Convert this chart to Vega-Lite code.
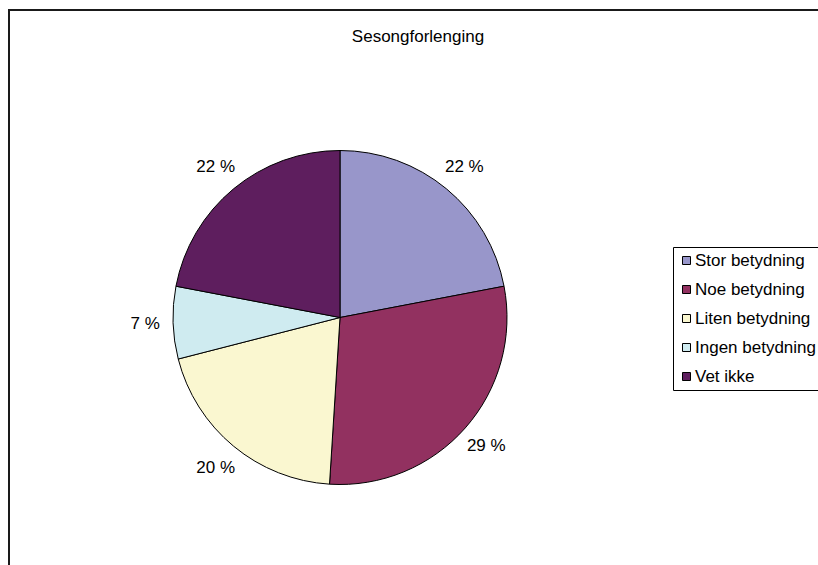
{
  "$schema": "https://vega.github.io/schema/vega-lite/v6.json",
  "width": 662,
  "height": 495,
  "autosize": {"type": "none"},
  "padding": {"left": 9, "top": 70, "right": 147, "bottom": 0},
  "background": "white",
  "config": {"view": {"stroke": null}, "font": "Liberation Sans"},
  "title": {
    "text": "Sesongforlenging",
    "font": "Liberation Sans",
    "fontSize": 17,
    "fontWeight": "normal",
    "color": "black",
    "anchor": "middle",
    "baseline": "alphabetic",
    "offset": -50,
    "dx": 78
  },
  "data": {
    "values": [
      {"idx": 1, "kategori": "Stor betydning", "andel": 22, "label": "22 %"},
      {"idx": 2, "kategori": "Noe betydning", "andel": 29, "label": "29 %"},
      {"idx": 3, "kategori": "Liten betydning", "andel": 20, "label": "20 %"},
      {"idx": 4, "kategori": "Ingen betydning", "andel": 7, "label": "7 %"},
      {"idx": 5, "kategori": "Vet ikke", "andel": 22, "label": "22 %"}
    ]
  },
  "layer": [
    {
      "data": {"values": [{"frame": "ramme"}]},
      "mark": {"type": "rect", "x": 0, "y": -60, "x2": 900, "y2": 700, "fillOpacity": 0, "stroke": "#1a1a1a", "strokeWidth": 2},
      "encoding": {}
    },
    {
      "mark": {"type": "arc", "radius": 167, "stroke": "black", "strokeWidth": 1},
      "encoding": {
        "theta": {"field": "andel", "type": "quantitative", "stack": true},
        "order": {"field": "idx", "type": "quantitative"},
        "color": {
          "field": "kategori",
          "type": "nominal",
          "sort": null,
          "scale": {
            "domain": ["Stor betydning", "Noe betydning", "Liten betydning", "Ingen betydning", "Vet ikke"],
            "range": ["#9896CA", "#923160", "#FAF7D0", "#CFEBF0", "#5E1E5E"]
          },
          "legend": {
            "title": null,
            "orient": "none",
            "legendX": 664,
            "legendY": 177,
            "strokeColor": "black",
            "fillColor": "white",
            "padding": 5,
            "symbolType": "square",
            "symbolSize": 64,
            "symbolStrokeColor": "black",
            "symbolStrokeWidth": 1,
            "symbolOpacity": 1,
            "labelFont": "Liberation Sans",
            "labelFontSize": 17,
            "labelColor": "black",
            "labelOffset": 0,
            "rowPadding": 11,
            "labelLimit": 300
          }
        }
      }
    },
    {
      "mark": {"type": "text", "radius": 195, "fontSize": 17, "font": "Liberation Sans", "color": "black"},
      "encoding": {
        "theta": {"field": "andel", "type": "quantitative", "stack": true},
        "order": {"field": "idx", "type": "quantitative"},
        "text": {"field": "label", "type": "nominal"}
      }
    }
  ]
}
